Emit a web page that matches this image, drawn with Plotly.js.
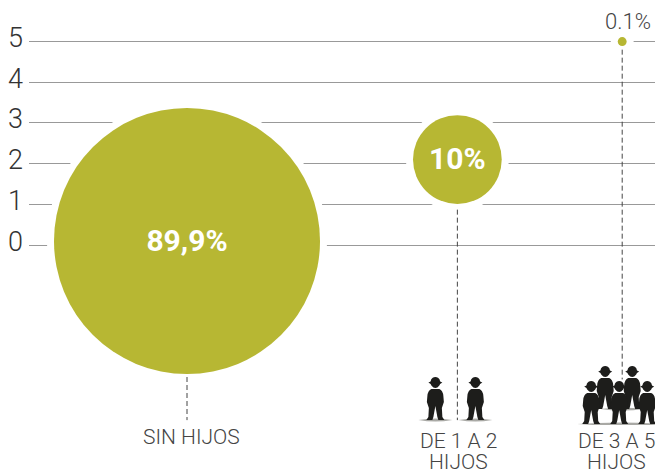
<!DOCTYPE html>
<html>
<head>
<meta charset="utf-8">
<script src="https://cdn.plot.ly/plotly-3.0.1.min.js"></script>
<style>html,body{margin:0;padding:0;background:#fff;}#c{width:661px;height:471px;}</style>
</head>
<body>
<div id="c"></div>
<script>
// Data
var categoryFirstLine = ['SIN HIJOS', 'DE 1 A 2', 'DE 3 A 5'];
var categorySecondLine = ['', 'HIJOS', 'HIJOS'];
var slots = [0, 4.97, 8];
var shares = [89.9, 10, 0.1];
var levels = [0.1, 2.1, 5];
var shareLabels = ['89,9%', '10%', ''];
var shareLabelLevels = [0.03, 2.05, 5];
var yTicks = [0, 1, 2, 3, 4, 5];
var dashTop = [0.1, 0.87, 4.8];
var dashBottom = [-4.3, -4.3, -3.3];

var olive = '#b7b733';
var sizeRef = 2 * 89.9 / (266 * 266);

var traces = [];
// white halo that interrupts the grid lines
traces.push({type:'scatter', mode:'markers', x:slots, y:levels, hoverinfo:'skip', showlegend:false, cliponaxis:false,
  marker:{color:'#fff', opacity:1, size:shares, sizemode:'area', sizeref:sizeRef, line:{color:'#fff', width:14}}});
// dashed leaders
slots.forEach(function(s, i){
  traces.push({type:'scatter', mode:'lines', x:[s, s], y:[dashTop[i], dashBottom[i]], hoverinfo:'skip', showlegend:false,
    line:{color:'#444', width:1, dash:'5px,3px'}});
});
// bubbles
traces.push({type:'scatter', mode:'markers', x:slots, y:levels, showlegend:false, cliponaxis:false,
  marker:{color:olive, opacity:1, size:shares, sizemode:'area', sizeref:sizeRef, line:{width:0}}});
// share labels
traces.push({type:'scatter', mode:'text', x:slots, y:shareLabelLevels, text:shareLabels, textposition:'middle center',
  textfont:{family:'Roboto, sans-serif', size:30, color:'#fff', weight:700}, showlegend:false, cliponaxis:false, hoverinfo:'skip'});

// pictograms (pixel-sized shapes anchored on the axis scale)
var personPath = function(dx, dy){
  var pts = function(str){
    return str.replace(/(-?[\d.]+) (-?[\d.]+)/g, function(m, a, b){ return (parseFloat(a)+dx)+' '+(parseFloat(b)+dy); });
  };
  return pts('M-7 37.5 Q-4 38.5 -4.5 40 Q-3 43 0 43 Q3 43 4.5 40 Q4 38.5 7 37.5 Q4 36 4 34.5 Q2 32 0 32 Q-2 32 -4 34.5 Q-4 36 -7 37.5 Z ') +
         pts('M0 31 L-4 31 Q-7.5 29.5 -8 24 L-8.5 18 L-6.5 12 L-7 3 L-9 0 L-3 0 L-2 3 L0 14 L2 3 L3 0 L9 0 L7 3 L6.5 12 L8.5 18 L8 24 Q7.5 29.5 4 31 Z');
};
var shadowPath = function(dx, dy, rx){
  return 'M'+(dx-rx)+' '+dy+' Q'+dx+' '+(dy+3)+' '+(dx+rx)+' '+dy+' Q'+dx+' '+(dy-3)+' '+(dx-rx)+' '+dy+' Z';
};
var iconShape = function(slot, path, color){
  return {type:'path', xref:'x', yref:'y', xsizemode:'pixel', ysizemode:'pixel', xanchor:slot, yanchor:-4.3, path:path,
    fillcolor:color, line:{width:0}};
};
var ink = '#1d1d1b', shade = '#a9a9a5';
var shapes = [
  iconShape(slots[1], shadowPath(-22, 0, 17), shade),
  iconShape(slots[1], shadowPath(18, 0, 17), shade),
  iconShape(slots[1], personPath(-22, 0), ink),
  iconShape(slots[1], personPath(18, 0), ink),
  iconShape(slots[2], shadowPath(0, 11, 22), shade),
  iconShape(slots[2], shadowPath(-2, -4, 43), shade),
  iconShape(slots[2], personPath(-17, 11), ink),
  iconShape(slots[2], personPath(10, 11), ink),
  iconShape(slots[2], personPath(-31, -4), ink),
  iconShape(slots[2], personPath(-3, -4), ink),
  iconShape(slots[2], personPath(25, -4), ink)
];

var labelFont = {family:'Roboto, sans-serif', size:21, color:'#444', weight:300};
var labelShift = [4.5, 1.5, -5.5];
var annotations = [{x:slots[2], y:levels[2], text:'0.1%', showarrow:false, yshift:20, xshift:6,
  font:{family:'Roboto, sans-serif', size:22, color:'#444', weight:300}}];
slots.forEach(function(s, i){
  annotations.push({x:s, y:-4.42, yanchor:'middle', text:categoryFirstLine[i], showarrow:false,
    xshift:labelShift[i], yshift:(i === 0 ? -12 : -16), font:labelFont});
  if (categorySecondLine[i]) annotations.push({x:s, y:-4.42, yanchor:'middle', text:categorySecondLine[i], showarrow:false,
    xshift:labelShift[i], yshift:-37, font:labelFont});
});

var layout = {
  width:661, height:471,
  margin:{l:29, r:6, t:0, b:46, pad:0},
  paper_bgcolor:'#fff', plot_bgcolor:'#fff',
  showlegend:false,
  xaxis:{range:[(29-187)/54.4, (655-187)/54.4], showticklabels:false,
    showgrid:false, zeroline:false, showline:false, ticks:''},
  yaxis:{range:[-4.42, 6.02], tickmode:'array', tickvals:yTicks, ticktext:yTicks.map(String),
    showgrid:true, gridcolor:'#999', gridwidth:1, zeroline:false, showline:false, ticks:'',
    ticklabelstandoff:5, ticklabelshift:-4,
    tickfont:{family:'Roboto, sans-serif', size:27, color:'#333', weight:300}},
  shapes:shapes,
  annotations:annotations
};
Plotly.newPlot('c', traces, layout, {displayModeBar:false, staticPlot:true});
</script>
</body>
</html>
